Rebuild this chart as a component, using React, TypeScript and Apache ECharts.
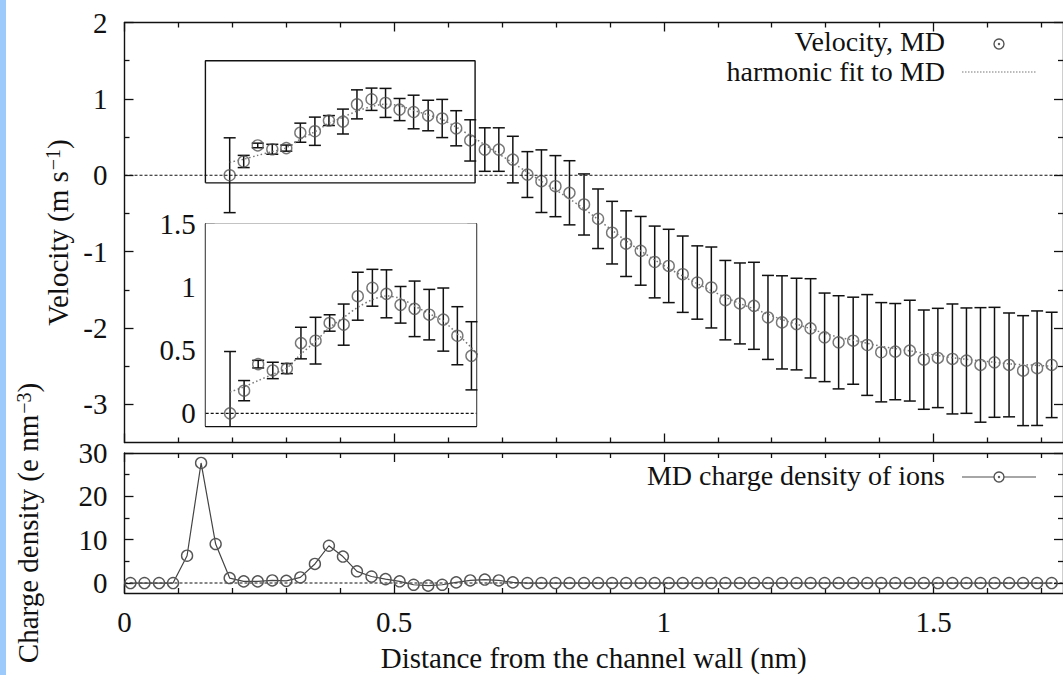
import React, { useEffect, useRef } from "react";
import * as echarts from "echarts";

// ---------- data ----------
// distance from the channel wall (nm), bin centres
const distance = [
  0.011, 0.037, 0.064, 0.09, 0.116, 0.142, 0.169, 0.195, 0.221, 0.247,
  0.274, 0.3, 0.326, 0.353, 0.379, 0.405, 0.431, 0.458, 0.484, 0.51,
  0.536, 0.563, 0.589, 0.615, 0.641, 0.668, 0.694, 0.72, 0.747, 0.773,
  0.799, 0.825, 0.852, 0.878, 0.904, 0.93, 0.957, 0.983, 1.009, 1.035,
  1.062, 1.088, 1.114, 1.141, 1.167, 1.193, 1.219, 1.246, 1.272, 1.298,
  1.324, 1.351, 1.377, 1.403, 1.429, 1.456, 1.482, 1.508, 1.535, 1.561,
  1.587, 1.613, 1.64, 1.666, 1.692, 1.719,
];

// MD charge density of ions (e nm^-3), one per distance bin
const chargeDensity = [
  0, 0, 0, 0, 6.3, 27.7, 9.0, 1.15, 0.38, 0.38,
  0.6, 0.5, 1.3, 4.4, 8.6, 6.1, 2.7, 1.5, 0.9, 0.4,
  -0.4, -0.6, -0.4, 0.15, 0.6, 0.8, 0.6, 0.15, 0, 0,
  0, 0, 0, 0, 0, 0, 0, 0, 0, 0,
  0, 0, 0, 0, 0, 0, 0, 0, 0, 0,
  0, 0, 0, 0, 0, 0, 0, 0, 0, 0,
  0, 0, 0, 0, 0, 0,
];

// velocity is sampled from the 8th bin on
const velocityFirstBin = 7;
const velocityDistance = distance.slice(velocityFirstBin);

// Velocity, MD (m s^-1)
const velocity = [
  0.0, 0.18, 0.39, 0.34, 0.355, 0.557, 0.576, 0.716, 0.703, 0.928,
  0.995, 0.947, 0.86, 0.828, 0.782, 0.743, 0.615, 0.456, 0.336, 0.336,
  0.205, 0.009, -0.078, -0.143, -0.23, -0.383, -0.57, -0.752, -0.896, -0.99,
  -1.136, -1.188, -1.296, -1.405, -1.47, -1.636, -1.679, -1.71, -1.862, -1.927,
  -1.949, -2.005, -2.123, -2.188, -2.167, -2.223, -2.318, -2.31, -2.297, -2.415,
  -2.393, -2.406, -2.428, -2.484, -2.45, -2.484, -2.559, -2.527, -2.484,
];

// error bar half-widths (m s^-1)
const velocityError = [
  0.49, 0.08, 0.03, 0.065, 0.04, 0.125, 0.185, 0.065, 0.163, 0.19,
  0.146, 0.19, 0.145, 0.22, 0.2, 0.25, 0.23, 0.27, 0.285, 0.285,
  0.305, 0.3, 0.41, 0.4, 0.42, 0.4, 0.39, 0.41, 0.43, 0.45,
  0.47, 0.48, 0.5, 0.48, 0.53, 0.52, 0.53, 0.57, 0.55, 0.61,
  0.6, 0.65, 0.58, 0.61, 0.57, 0.66, 0.65, 0.63, 0.66, 0.65,
  0.65, 0.72, 0.69, 0.75, 0.72, 0.68, 0.72, 0.75, 0.69,
];

// harmonic fit to MD (m s^-1)
const harmonicFit = [
  0.17, 0.21, 0.26, 0.31, 0.36, 0.47, 0.57, 0.68, 0.76, 0.84,
  0.9, 0.93, 0.91, 0.85, 0.79, 0.73, 0.63, 0.52, 0.4, 0.28,
  0.16, 0.04, -0.08, -0.19, -0.31, -0.44, -0.58, -0.72, -0.86, -0.99,
  -1.11, -1.22, -1.32, -1.42, -1.51, -1.6, -1.68, -1.75, -1.82, -1.89,
  -1.95, -2.01, -2.07, -2.12, -2.16, -2.2, -2.24, -2.27, -2.3, -2.33,
  -2.36, -2.39, -2.41, -2.43, -2.45, -2.47, -2.48, -2.49, -2.5,
];

// axis ranges and ticks
const distanceRange = [0, 1.74];
const velocityRange = [-3.5, 2];
const chargeRange = [-2.3, 30];
const insetDistanceRange = [0.15, 0.65];
const insetVelocityRange = [-0.1, 1.5];

const distanceMajorTicks = [0, 0.5, 1, 1.5];
const distanceMinorTicks = [0.1, 0.2, 0.3, 0.4, 0.6, 0.7, 0.8, 0.9, 1.1, 1.2, 1.3, 1.4, 1.6, 1.7];
const velocityMajorTicks = [-3, -2, -1, 0, 1, 2];
const velocityMinorTicks = [-2.5, -1.5, -0.5, 0.5, 1.5];
const chargeMajorTicks = [0, 10, 20, 30];
const chargeMinorTicks = [5, 15, 25];
const insetDistanceMajorTicks = [0.5];
const insetDistanceMinorTicks = [0.2, 0.3, 0.4, 0.6];
const insetVelocityMajorTicks = [0, 0.5, 1, 1.5];
const insetVelocityMinorTicks = [0.1, 0.2, 0.3, 0.4, 0.6, 0.7, 0.8, 0.9, 1.1, 1.2, 1.3, 1.4];

// ---------- styling ----------
const FONT = "'Liberation Serif', 'DejaVu Serif', serif";
const INK = "#111111";
const MARK = "#555555";
const FS = 29;
const LEGEND_FS = 28;

function axisSet(
  gridIndex: number,
  position: string,
  range: number[],
  major: number[],
  minor: number[],
  labels: boolean,
  extra: any = {}
) {
  const tickStyle = { color: INK, width: 1.3 };
  const base: any = {
    type: "value",
    gridIndex,
    position,
    min: range[0],
    max: range[1],
    splitLine: { show: false },
  };
  return [
    {
      ...base,
      axisLine: { show: true, onZero: false, lineStyle: { color: INK, width: 1.4 } },
      axisTick: { show: true, inside: true, length: 9, customValues: major, lineStyle: tickStyle },
      axisLabel: {
        show: labels,
        customValues: major,
        fontFamily: FONT,
        fontSize: FS,
        color: INK,
        margin: 16,
      },
      ...extra,
    },
    {
      ...base,
      axisLine: { show: false, onZero: false },
      axisTick: { show: true, inside: true, length: 5, customValues: minor, lineStyle: tickStyle },
      axisLabel: { show: false },
    },
  ];
}

function makeErrorBarRender(color: string) {
  return (params: any, api: any) => {
    const x = api.value(0);
    const lo = api.value(1);
    const hi = api.value(2);
    const pLo = api.coord([x, lo]);
    const pHi = api.coord([x, hi]);
    const cs = params.coordSys;
    const yTop = Math.max(pHi[1], cs.y);
    const yBot = Math.min(pLo[1], cs.y + cs.height);
    const cap = 6;
    const style = { stroke: color, lineWidth: 1.5 };
    const children: any[] = [];
    if (yBot > yTop) {
      children.push({ type: "line", shape: { x1: pHi[0], y1: yTop, x2: pHi[0], y2: yBot }, style });
    }
    if (pHi[1] >= cs.y && pHi[1] <= cs.y + cs.height) {
      children.push({ type: "line", shape: { x1: pHi[0] - cap, y1: pHi[1], x2: pHi[0] + cap, y2: pHi[1] }, style });
    }
    if (pLo[1] <= cs.y + cs.height && pLo[1] >= cs.y) {
      children.push({ type: "line", shape: { x1: pLo[0] - cap, y1: pLo[1], x2: pLo[0] + cap, y2: pLo[1] }, style });
    }
    return { type: "group", children };
  };
}

export default function App() {
  const ref = useRef<HTMLDivElement>(null);

  useEffect(() => {
    if (!ref.current) return;
    const chart = echarts.init(ref.current, null, { renderer: "svg" });

    const X0 = 124.5;
    const PX = 541.25; // px per nm
    const mainW = (distanceRange[1] - distanceRange[0]) * PX;

    const velPoints = velocityDistance.map((d, i) => [d, velocity[i]]);
    const errData = velocityDistance.map((d, i) => [d, velocity[i] - velocityError[i], velocity[i] + velocityError[i]]);
    const fitData = velocityDistance.map((d, i) => [d, harmonicFit[i]]);
    const inInset = (p: number[]) => p[0] >= insetDistanceRange[0] && p[0] <= insetDistanceRange[1];
    const insetFrame = [
      [insetDistanceRange[0], insetVelocityRange[0]],
      [insetDistanceRange[1], insetVelocityRange[0]],
      [insetDistanceRange[1], insetVelocityRange[1]],
      [insetDistanceRange[0], insetVelocityRange[1]],
      [insetDistanceRange[0], insetVelocityRange[0]],
    ];
    const chargePoints = distance.map((d, i) => [d, chargeDensity[i]]);

    const nameStyle = {
      fontFamily: FONT,
      fontSize: FS,
      color: INK,
      rich: {
        sup: { fontFamily: FONT, fontSize: 20, color: INK, verticalAlign: "top", padding: [0, 0, 9, 1] },
      },
    };

    const xAxes = [
      ...axisSet(0, "bottom", distanceRange, distanceMajorTicks, distanceMinorTicks, false),
      ...axisSet(0, "top", distanceRange, distanceMajorTicks, distanceMinorTicks, false),
      ...axisSet(1, "bottom", distanceRange, distanceMajorTicks, distanceMinorTicks, true, {
        name: "Distance from the channel wall (nm)",
        nameLocation: "middle",
        nameGap: 50,
        nameTextStyle: { fontFamily: FONT, fontSize: FS, color: INK },
      }),
      ...axisSet(1, "top", distanceRange, distanceMajorTicks, distanceMinorTicks, false),
      ...axisSet(2, "bottom", insetDistanceRange, insetDistanceMajorTicks, insetDistanceMinorTicks, false),
      ...axisSet(2, "top", insetDistanceRange, insetDistanceMajorTicks, insetDistanceMinorTicks, false),
    ];
    const yAxes = [
      ...axisSet(0, "left", velocityRange, velocityMajorTicks, velocityMinorTicks, true, {
        name: "Velocity (m s{sup|−1})",
        nameLocation: "middle",
        nameGap: 48,
        nameTextStyle: nameStyle,
      }),
      ...axisSet(0, "right", velocityRange, velocityMajorTicks, velocityMinorTicks, false),
      ...axisSet(1, "left", chargeRange, chargeMajorTicks, chargeMinorTicks, true, {
        name: "Charge density (e nm{sup|−3})",
        nameLocation: "middle",
        nameGap: 82,
        nameTextStyle: nameStyle,
      }),
      ...axisSet(1, "right", chargeRange, chargeMajorTicks, chargeMinorTicks, false),
      ...axisSet(2, "left", insetVelocityRange, insetVelocityMajorTicks, insetVelocityMinorTicks, true),
      ...axisSet(2, "right", insetVelocityRange, insetVelocityMajorTicks, insetVelocityMinorTicks, false),
    ];
    // inset labels sit closer to the frame
    yAxes[8].axisLabel.margin = 10;
    // main y labels
    yAxes[0].axisLabel.margin = 17;
    yAxes[4].axisLabel.margin = 17;
    xAxes[4].axisLabel.margin = 14;

    const zeroStyle = { color: INK, width: 1.1, type: [3, 2] };
    const fitStyle = { color: "#777777", width: 1.5, type: [1.5, 2.5] };
    const circleStyle = { color: "rgba(0,0,0,0)", borderColor: MARK, borderWidth: 1.4 };
    const legendText = (text: string, y: number) => ({
      type: "text", x: 945, y,
      style: {
        text, fontFamily: FONT, fontSize: LEGEND_FS, fill: INK,
        align: "right", verticalAlign: "middle", textAlign: "right", textVerticalAlign: "middle",
      },
    });

    const option: any = {
      animation: false,
      backgroundColor: "#ffffff",
      grid: [
        { left: X0, top: 22.5, width: mainW, height: 420 },
        { left: X0, top: 453, width: mainW, height: 140 },
        {
          left: X0 + insetDistanceRange[0] * PX,
          top: 224,
          width: (insetDistanceRange[1] - insetDistanceRange[0]) * PX,
          height: 202,
          show: true,
          backgroundColor: "#ffffff",
          borderWidth: 0,
          z: 3,
        },
      ],
      xAxis: xAxes,
      yAxis: yAxes,
      series: [
        // ---- main velocity panel ----
        {
          type: "line", xAxisIndex: 0, yAxisIndex: 0, data: [[distanceRange[0], 0], [distanceRange[1], 0]],
          symbol: "none", lineStyle: zeroStyle, silent: true,
        },
        {
          type: "line", xAxisIndex: 0, yAxisIndex: 0, data: insetFrame,
          symbol: "none", lineStyle: { color: INK, width: 1.4 }, silent: true,
        },
        {
          type: "line", name: "harmonic fit to MD", xAxisIndex: 0, yAxisIndex: 0, data: fitData,
          smooth: 0.3, symbol: "none", lineStyle: fitStyle, silent: true,
        },
        {
          type: "custom", xAxisIndex: 0, yAxisIndex: 0, data: errData,
          encode: { x: 0, y: [1, 2] }, renderItem: makeErrorBarRender(INK), silent: true,
        },
        {
          type: "scatter", name: "Velocity, MD", xAxisIndex: 0, yAxisIndex: 0, data: velPoints,
          symbol: "circle", symbolSize: 11, itemStyle: circleStyle, silent: true,
        },
        // ---- inset ----
        {
          type: "line", xAxisIndex: 8, yAxisIndex: 8, data: [[insetDistanceRange[0], 0], [insetDistanceRange[1], 0]],
          symbol: "none", lineStyle: zeroStyle, silent: true, z: 4,
        },
        {
          type: "line", xAxisIndex: 8, yAxisIndex: 8, data: fitData.filter((p, i) => i < 20),
          smooth: 0.3, symbol: "none", lineStyle: fitStyle, silent: true, clip: true, z: 4,
        },
        {
          type: "custom", xAxisIndex: 8, yAxisIndex: 8, data: errData.filter(inInset),
          encode: { x: 0, y: [1, 2] }, renderItem: makeErrorBarRender(INK), silent: true, z: 4,
        },
        {
          type: "scatter", xAxisIndex: 8, yAxisIndex: 8, data: velPoints.filter(inInset),
          symbol: "circle", symbolSize: 11, itemStyle: circleStyle, silent: true, z: 4,
        },
        // ---- charge density panel ----
        {
          type: "line", xAxisIndex: 4, yAxisIndex: 4, data: [[distanceRange[0], 0], [distanceRange[1], 0]],
          symbol: "none", lineStyle: zeroStyle, silent: true,
        },
        {
          type: "line", name: "MD charge density of ions", xAxisIndex: 4, yAxisIndex: 4, data: chargePoints,
          symbol: "circle", symbolSize: 11, showAllSymbol: true,
          itemStyle: circleStyle, lineStyle: { color: "#444444", width: 1.2 }, silent: true,
        },
      ],
      graphic: [
        { type: "rect", shape: { x: 0, y: 0, width: 6, height: 675 }, style: { fill: "#9ccbfb" }, silent: true },
        legendText("Velocity, MD", 41),
        { type: "circle", shape: { cx: 999, cy: 44, r: 5 }, style: { fill: "none", stroke: MARK, lineWidth: 1.4 } },
        { type: "circle", shape: { cx: 999, cy: 44, r: 1.2 }, style: { fill: MARK } },
        legendText("harmonic fit to MD", 71),
        { type: "line", shape: { x1: 962, y1: 72, x2: 1036, y2: 72 }, style: { stroke: "#777777", lineWidth: 1.2, lineDash: [1.5, 1.5] } },
        legendText("MD charge density of ions", 475),
        { type: "line", shape: { x1: 962, y1: 477, x2: 1036, y2: 477 }, style: { stroke: "#888888", lineWidth: 1.5 } },
        { type: "circle", shape: { cx: 999, cy: 477, r: 5 }, style: { fill: "#ffffff", stroke: MARK, lineWidth: 1.4 } },
        { type: "circle", shape: { cx: 999, cy: 477, r: 1.2 }, style: { fill: MARK } },
      ],
    };

    chart.setOption(option);
    return () => chart.dispose();
  }, []);

  return (
    <div
      ref={ref}
      style={{ position: "fixed", left: 0, top: 0, width: "1063px", height: "675px", background: "#fff" }}
    />
  );
}
